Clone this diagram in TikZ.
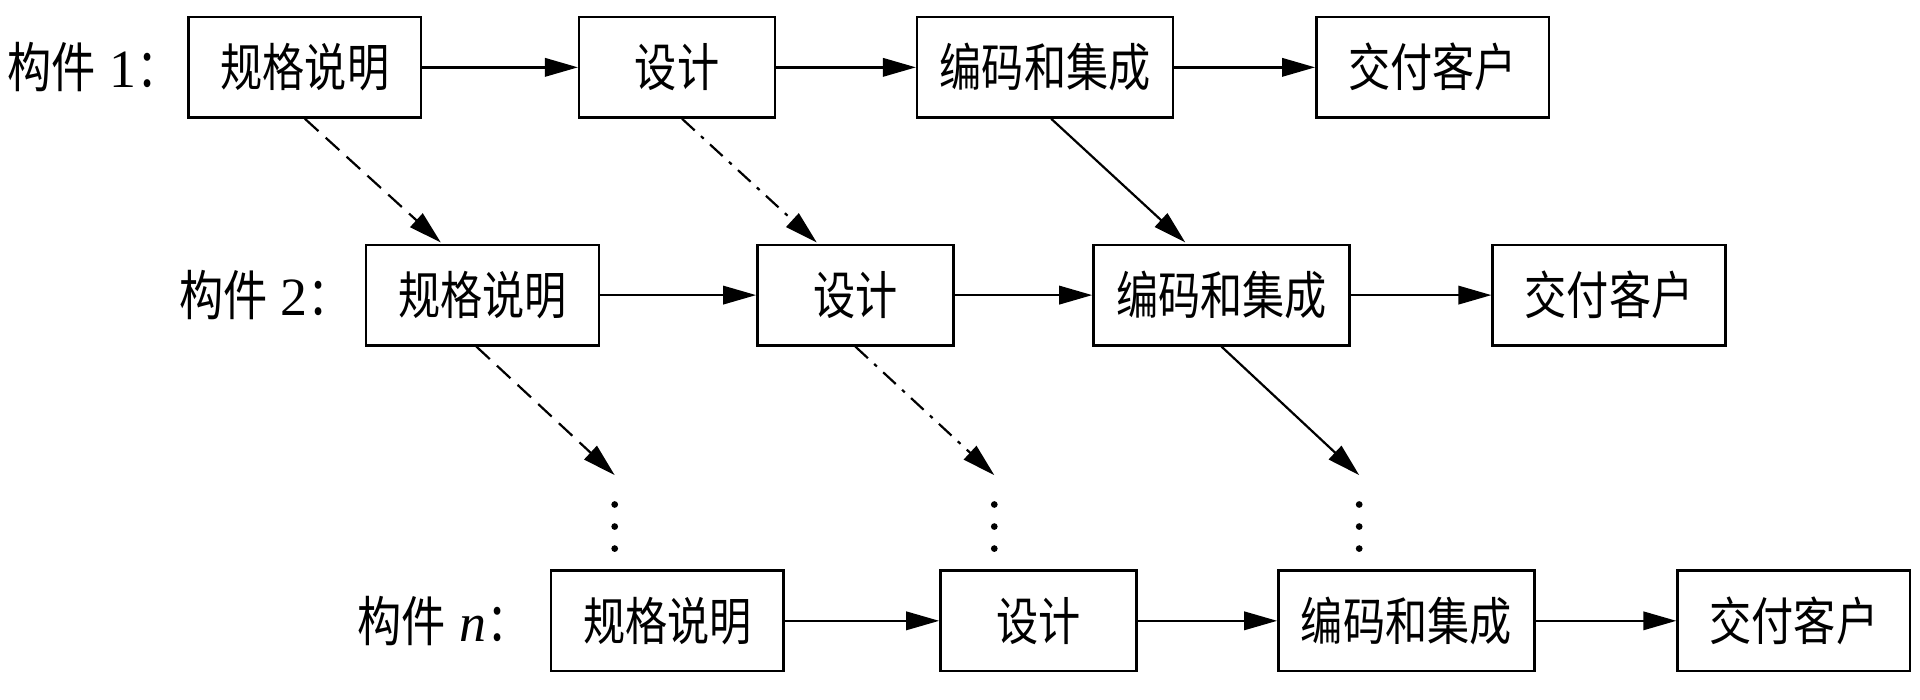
\documentclass[tikz,border=0pt]{standalone}
\usepackage{fontspec}
\setmainfont{Liberation Serif}
\newfontfamily\cjk[FakeStretch=0.82]{Noto Sans CJK SC}
\usetikzlibrary{arrows.meta}
\begin{document}
\begin{tikzpicture}[x=1pt,y=-1pt,
  box/.style={draw,line width=2pt,minimum height=82pt,inner sep=0pt,font=\cjk\fontsize{42}{48}\selectfont},
  w4/.style={minimum width=190pt},
  w2/.style={minimum width=160pt},
  w5/.style={minimum width=209pt},
  lbl/.style={anchor=west,inner sep=0pt,font=\fontsize{44}{48}\selectfont},
  harr/.style={line width=2pt,-{Triangle[length=27pt,width=15pt]}},
  darr/.style={line width=1.8pt,-{Triangle[length=27pt,width=15pt]}},
  dsh/.style={dash pattern=on 15pt off 8pt},
  dshdot/.style={dash pattern=on 14pt off 7pt on 3pt off 7pt},
  dot/.style={circle,fill,inner sep=0pt,minimum size=5.5pt}
]
\useasboundingbox (0,0) rectangle (1568,571);
% row 1
\node[lbl] (L1) at (6,55) {{\cjk 构件} 1{\cjk ：}};
\node[box,w4] (B11) at (249,55) {规格说明};
\node[box,w2] (B12) at (553,55) {设计};
\node[box,w5] (B13) at (853.5,55) {编码和集成};
\node[box,w4] (B14) at (1170,55) {交付客户};
% row 2
\node[lbl] (L2) at (146,241) {{\cjk 构件} 2{\cjk ：}};
\node[box,w4] (B21) at (394,241) {规格说明};
\node[box,w2] (B22) at (698.5,241) {设计};
\node[box,w5] (B23) at (997.5,241) {编码和集成};
\node[box,w4] (B24) at (1314,241) {交付客户};
% row 3
\node[lbl] (L3) at (292,507) {{\cjk 构件} \textit{n}{\cjk ：}};
\node[box,w4] (B31) at (545,507) {规格说明};
\node[box,w2] (B32) at (848,507) {设计};
\node[box,w5] (B33) at (1148.5,507) {编码和集成};
\node[box,w4] (B34) at (1465,507) {交付客户};
% horizontal arrows
\draw[harr] (B11) -- (B12);
\draw[harr] (B12) -- (B13);
\draw[harr] (B13) -- (B14);
\draw[harr] (B21) -- (B22);
\draw[harr] (B22) -- (B23);
\draw[harr] (B23) -- (B24);
\draw[harr] (B31) -- (B32);
\draw[harr] (B32) -- (B33);
\draw[harr] (B33) -- (B34);
% tip coordinates
\coordinate (T11) at (360,198);
\coordinate (T12) at (667,198);
\coordinate (T13) at (968,198);
\coordinate (T21) at (502,388);
\coordinate (T22) at (812,388);
\coordinate (T23) at (1110,388);
% diagonal arrows
\draw[darr,dsh] (B11.south) -- (T11);
\draw[darr,dshdot] ([xshift=4pt]B12.south) -- (T12);
\draw[darr] ([xshift=5pt]B13.south) -- (T13);
\draw[darr,dsh] ([xshift=-5pt]B21.south) -- (T21);
\draw[darr,dshdot] (B22.south) -- (T22);
\draw[darr] (B23.south) -- (T23);
% vertical dots
\node[dot] (D11) at (502,412) {};
\node[dot] (D12) at (502,430) {};
\node[dot] (D13) at (502,448) {};
\node[dot] (D21) at (812,412) {};
\node[dot] (D22) at (812,430) {};
\node[dot] (D23) at (812,448) {};
\node[dot] (D31) at (1110,412) {};
\node[dot] (D32) at (1110,430) {};
\node[dot] (D33) at (1110,448) {};
\end{tikzpicture}
\end{document}
